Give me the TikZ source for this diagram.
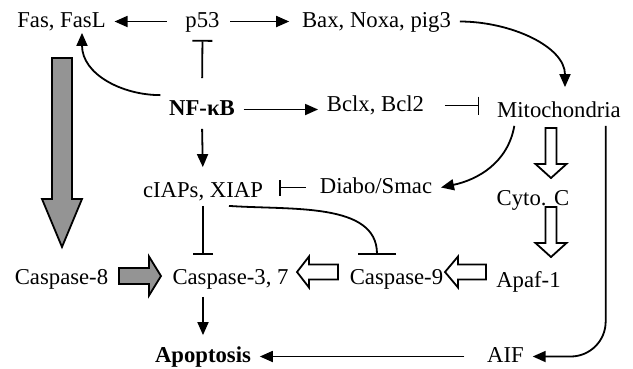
\documentclass[tikz,border=0pt]{standalone}
\usepackage{fontspec}
\setmainfont{Liberation Serif}
\usetikzlibrary{arrows.meta,calc}

\def\txtsize{\fontsize{22.7}{27}\selectfont}

% block arrow: tail, tip, half shaft, half head, head length, fill
\newcommand{\fatarrow}[6]{%
  \coordinate (fb) at ($(#2)!#5!(#1)$);
  \draw[fat arrow, fill=#6] ($(#1)!#3!90:(#2)$) -- ($(fb)!#3!90:(#2)$)
     -- ($(fb)!#4!90:(#2)$) -- (#2) -- ($(fb)!#4!-90:(#2)$)
     -- ($(fb)!#3!-90:(#2)$) -- ($(#1)!#3!-90:(#2)$) -- cycle;}

\begin{document}
\begin{tikzpicture}[
    x=1pt, y=-1pt,
    line width=1.8pt,
    act/.style={-{Triangle[length=13pt,width=11pt]}},
    inh/.style={-{Bar[width=#1]}},
    inh/.default=20pt,
    fat arrow/.style={line width=1.8pt, line join=miter},
    protein/.style={font=\txtsize, text height=16pt, text depth=5pt,
                    inner xsep=8pt, inner ysep=3pt, anchor=base},
    key protein/.style={protein, font=\txtsize\bfseries}
]
    \useasboundingbox (0,0) rectangle (633,368);

    % Draw the protein nodes
    \foreach \name/\x/\y/\txt in {fas/61.5/27/{Fas, FasL}, p53/202.5/27/p53,
        bax/376.5/27/{Bax, Noxa, pig3}, bclx/375.5/111/{Bclx, Bcl2},
        mito/559/117/Mitochondria, ciaps/203/197/{cIAPs, XIAP},
        diabo/376/193/{Diabo/Smac}, cyto/533/205/{Cyto. C},
        casp8/61.5/284/Caspase-8, casp3/230.5/284/{Caspase-3, 7},
        casp9/396.5/284/Caspase-9, apaf/528.5/287/Apaf-1, aif/505.5/362/AIF}
        \node[protein] (\name) at (\x,\y) {\txt};

    \node[key protein] (nfkb) at (202,115) {NF-κB};
    \node[key protein] (apop) at (203,362) {Apoptosis};

    % p53 branch
    \draw[act, shorten <=10pt] (p53.west) -- (fas.east);
    \draw[act, shorten <=2pt, shorten >=4pt] (p53.east) -- (bax.west);
    \draw[inh, shorten <=17pt, shorten >=4pt] (nfkb.north) -- (p53.south);
    \draw[act, shorten >=-3pt] (nfkb.north west) to[out=180, in=-90] ([xshift=20.5pt]fas.south);
    \draw[act, shorten >=10pt] (bax.east) to[out=0, in=90] ([xshift=6pt]mito.north);

    % NF-kB targets
    \draw[act] (nfkb.east) -- (nfkb.east -| bclx.west);
    \draw[inh=18pt, shorten <=12pt, shorten >=9pt] (bclx.east) -- (bclx.east -| mito.west);
    \draw[act, shorten <=5pt, shorten >=10pt] (nfkb.south) -- (ciaps.north);

    % mitochondrial factors
    \draw[act] ([xshift=26pt]mito.south west) to[out=-100, in=12] (diabo.east);
    \draw[inh=16pt, shorten <=5pt, shorten >=7pt] (diabo.west) -- (diabo.west -| ciaps.east);
    \draw[act, rounded corners=35pt] ([xshift=-24pt]mito.south east) |- (aif.east);

    % caspases
    \draw[inh, shorten >=9pt] (ciaps.south) -- (ciaps.south |- casp3.north);
    \draw[inh=38pt, shorten >=9pt] ([xshift=26pt]ciaps.south) to[out=-4, in=90] ([xshift=-19.5pt]casp9.north);
    \draw[act, shorten <=4pt, shorten >=7pt] (apop.north |- casp3.south) -- (apop.north);
    \draw[act, shorten <=14pt] (aif.west) -- (apop.east);

    % Draw the block arrows
    \coordinate (fas-tail) at (62,58);    \coordinate (fas-tip) at (62,247);
    \coordinate (c8-tail) at (119,276);   \coordinate (c8-tip) at (161,276);
    \coordinate (c9-tail) at (338,272);   \coordinate (c9-tip) at (297,272);
    \coordinate (apaf-tail) at (486,272); \coordinate (apaf-tip) at (445,272);
    \coordinate (mito-tail) at (551,128); \coordinate (mito-tip) at (551,178);
    \coordinate (cyto-tail) at (551,207); \coordinate (cyto-tip) at (551,257);

    \fatarrow{fas-tail}{fas-tip}{10pt}{20pt}{48pt}{black!42}
    \fatarrow{c8-tail}{c8-tip}{8pt}{19.5pt}{12pt}{black!42}
    \fatarrow{c9-tail}{c9-tip}{7.5pt}{15.5pt}{12pt}{white}
    \fatarrow{apaf-tail}{apaf-tip}{7.5pt}{15.5pt}{13pt}{white}
    \fatarrow{mito-tail}{mito-tip}{5.5pt}{15.5pt}{14pt}{white}
    \fatarrow{cyto-tail}{cyto-tip}{5.5pt}{15.5pt}{14pt}{white}
\end{tikzpicture}
\end{document}
